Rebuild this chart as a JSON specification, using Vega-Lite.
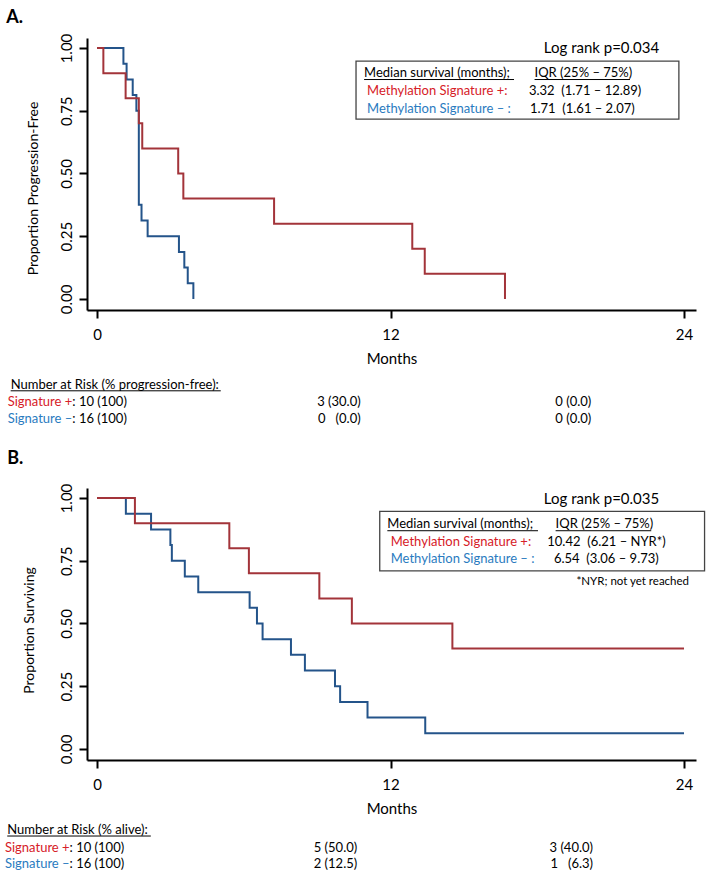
{
  "$schema": "https://vega.github.io/schema/vega-lite/v6.json",
  "background": "white",
  "padding": {"left": 4, "top": 8, "right": 0, "bottom": 0},
  "bounds": "flush",
  "spacing": 178,
  "config": {
    "view": {"stroke": null},
    "font": "Lato",
    "axis": {
      "grid": false,
      "domainColor": "black",
      "domainWidth": 2,
      "tickColor": "black",
      "tickWidth": 2,
      "tickSize": 8,
      "labelColor": "black",
      "labelFont": "Lato",
      "labelFontSize": 15,
      "titleColor": "black",
      "titleFont": "Lato",
      "titleFontSize": 14,
      "titleFontWeight": "normal"
    }
  },
  "datasets": {
    "pfs": [
      {"group": "neg", "month": 0, "surv": 1},
      {"group": "neg", "month": 1.08, "surv": 0.9375},
      {"group": "neg", "month": 1.21, "surv": 0.875},
      {"group": "neg", "month": 1.46, "surv": 0.8125},
      {"group": "neg", "month": 1.61, "surv": 0.75},
      {"group": "neg", "month": 1.71, "surv": 0.375},
      {"group": "neg", "month": 1.82, "surv": 0.3125},
      {"group": "neg", "month": 2.07, "surv": 0.25},
      {"group": "neg", "month": 3.35, "surv": 0.1875},
      {"group": "neg", "month": 3.57, "surv": 0.125},
      {"group": "neg", "month": 3.71, "surv": 0.0625},
      {"group": "neg", "month": 3.94, "surv": 0},
      {"group": "pos", "month": 0, "surv": 1},
      {"group": "pos", "month": 0.26, "surv": 0.9},
      {"group": "pos", "month": 1.17, "surv": 0.8},
      {"group": "pos", "month": 1.71, "surv": 0.7},
      {"group": "pos", "month": 1.85, "surv": 0.6},
      {"group": "pos", "month": 3.32, "surv": 0.5},
      {"group": "pos", "month": 3.53, "surv": 0.4},
      {"group": "pos", "month": 7.24, "surv": 0.3},
      {"group": "pos", "month": 12.89, "surv": 0.2},
      {"group": "pos", "month": 13.4, "surv": 0.1},
      {"group": "pos", "month": 16.68, "surv": 0}
    ],
    "os": [
      {"group": "neg", "month": 0, "surv": 1},
      {"group": "neg", "month": 1.18, "surv": 0.9375},
      {"group": "neg", "month": 2.21, "surv": 0.875},
      {"group": "neg", "month": 3.0, "surv": 0.8125},
      {"group": "neg", "month": 3.06, "surv": 0.75},
      {"group": "neg", "month": 3.59, "surv": 0.6875},
      {"group": "neg", "month": 4.14, "surv": 0.625},
      {"group": "neg", "month": 6.24, "surv": 0.5625},
      {"group": "neg", "month": 6.54, "surv": 0.5},
      {"group": "neg", "month": 6.77, "surv": 0.4375},
      {"group": "neg", "month": 7.93, "surv": 0.375},
      {"group": "neg", "month": 8.5, "surv": 0.3125},
      {"group": "neg", "month": 9.73, "surv": 0.25},
      {"group": "neg", "month": 9.94, "surv": 0.1875},
      {"group": "neg", "month": 11.06, "surv": 0.125},
      {"group": "neg", "month": 13.42, "surv": 0.0625},
      {"group": "neg", "month": 24, "surv": 0.0625},
      {"group": "pos", "month": 0, "surv": 1},
      {"group": "pos", "month": 1.55, "surv": 0.9},
      {"group": "pos", "month": 5.41, "surv": 0.8},
      {"group": "pos", "month": 6.21, "surv": 0.7},
      {"group": "pos", "month": 9.09, "surv": 0.6},
      {"group": "pos", "month": 10.42, "surv": 0.5},
      {"group": "pos", "month": 14.53, "surv": 0.4},
      {"group": "pos", "month": 24, "surv": 0.4}
    ]
  },
  "vconcat": [
    {
      "width": 609,
      "height": 272,
      "layer": [
        {
          "data": {"name": "pfs"},
          "mark": {"type": "line", "interpolate": "step-after", "strokeWidth": 2},
          "encoding": {
            "x": {"field": "month", "type": "quantitative", "scale": {"domain": [-0.409, 24.49], "nice": false, "zero": false},
              "axis": {"values": [0, 12, 24], "title": "Months", "labelPadding": 9, "titlePadding": 9, "titleFontSize": 15}},
            "y": {"field": "surv", "type": "quantitative", "scale": {"domain": [-0.044, 1.04], "nice": false, "zero": false},
              "axis": {"values": [0, 0.25, 0.5, 0.75, 1], "format": ".2f", "labelAngle": -90, "labelAlign": "center", "labelBaseline": "bottom", "labelPadding": 5,
                "title": "Proportion  Progression-Free", "titleX": -47, "titleY": 150}},
            "color": {"field": "group", "type": "nominal", "scale": {"domain": ["neg", "pos"], "range": ["#24548a", "#a3343a"]}, "legend": null}
          }
        },
        {"data": {"values": [{}]}, "mark": {"type": "text", "text": "A.", "fontSize": 18, "fontWeight": "bold", "align": "left", "baseline": "alphabetic"},
          "encoding": {"x": {"datum": -3.71, "type": "quantitative"}, "y": {"datum": 1.101, "type": "quantitative"}}},
        {"data": {"values": [{}]}, "mark": {"type": "text", "text": "Log rank p=0.034", "fontSize": 15, "align": "left", "baseline": "alphabetic"},
          "encoding": {"x": {"datum": 18.27, "type": "quantitative"}, "y": {"datum": 0.979, "type": "quantitative"}}},
        {"data": {"values": [{}]}, "mark": {"type": "rect", "fill": null, "stroke": "#444444", "strokeWidth": 1.3},
          "encoding": {"x": {"datum": 10.59, "type": "quantitative"}, "x2": {"datum": 23.79}, "y": {"datum": 0.948, "type": "quantitative"}, "y2": {"datum": 0.717}}},
        {"data": {"values": [{}]}, "mark": {"type": "text", "text": "Median survival (months);", "fontSize": 13, "align": "left", "baseline": "alphabetic"},
          "encoding": {"x": {"datum": 10.92, "type": "quantitative"}, "y": {"datum": 0.883, "type": "quantitative"}}},
        {"data": {"values": [{}]}, "mark": {"type": "text", "text": "IQR (25% – 75%)", "fontSize": 13, "align": "left", "baseline": "alphabetic"},
          "encoding": {"x": {"datum": 17.89, "type": "quantitative"}, "y": {"datum": 0.883, "type": "quantitative"}}},
        {"data": {"values": [{}]}, "mark": {"type": "rule", "color": "black", "strokeWidth": 1},
          "encoding": {"x": {"datum": 10.92, "type": "quantitative"}, "x2": {"datum": 17.05}, "y": {"datum": 0.8745, "type": "quantitative"}}},
        {"data": {"values": [{}]}, "mark": {"type": "rule", "color": "black", "strokeWidth": 1},
          "encoding": {"x": {"datum": 17.89, "type": "quantitative"}, "x2": {"datum": 21.79}, "y": {"datum": 0.8745, "type": "quantitative"}}},
        {"data": {"values": [{}]}, "mark": {"type": "text", "text": "Methylation Signature +:", "fontSize": 13, "color": "#d62027", "align": "left", "baseline": "alphabetic"},
          "encoding": {"x": {"datum": 11.04, "type": "quantitative"}, "y": {"datum": 0.811, "type": "quantitative"}}},
        {"data": {"values": [{}]}, "mark": {"type": "text", "text": "3.32\u00a0 (1.71 – 12.89)", "fontSize": 13, "align": "left", "baseline": "alphabetic"},
          "encoding": {"x": {"datum": 17.66, "type": "quantitative"}, "y": {"datum": 0.811, "type": "quantitative"}}},
        {"data": {"values": [{}]}, "mark": {"type": "text", "text": "Methylation Signature – :", "fontSize": 13, "color": "#2a7bc0", "align": "left", "baseline": "alphabetic"},
          "encoding": {"x": {"datum": 11.04, "type": "quantitative"}, "y": {"datum": 0.742, "type": "quantitative"}}},
        {"data": {"values": [{}]}, "mark": {"type": "text", "text": "1.71\u00a0 (1.61 – 2.07)", "fontSize": 13, "align": "left", "baseline": "alphabetic"},
          "encoding": {"x": {"datum": 17.7, "type": "quantitative"}, "y": {"datum": 0.742, "type": "quantitative"}}},
        {"data": {"values": [{}]}, "mark": {"type": "text", "text": "Number at Risk (% progression-free):", "fontSize": 13, "align": "left", "baseline": "alphabetic"},
          "encoding": {"x": {"datum": -3.53, "type": "quantitative"}, "y": {"datum": -0.36, "type": "quantitative"}}},
        {"data": {"values": [{}]}, "mark": {"type": "rule", "color": "black", "strokeWidth": 1},
          "encoding": {"x": {"datum": -3.53, "type": "quantitative"}, "x2": {"datum": 5.06}, "y": {"datum": -0.366, "type": "quantitative"}}},
        {"data": {"values": [{}]}, "mark": {"type": "text", "text": "Signature +", "fontSize": 13, "color": "#d62027", "align": "right", "baseline": "alphabetic"},
          "encoding": {"x": {"datum": -1.01, "type": "quantitative"}, "y": {"datum": -0.426, "type": "quantitative"}}},
        {"data": {"values": [{}]}, "mark": {"type": "text", "text": ": 10 (100)", "fontSize": 13, "align": "left", "baseline": "alphabetic"},
          "encoding": {"x": {"datum": -1.01, "type": "quantitative"}, "y": {"datum": -0.426, "type": "quantitative"}}},
        {"data": {"values": [{}]}, "mark": {"type": "text", "text": "Signature –", "fontSize": 13, "color": "#2a7bc0", "align": "right", "baseline": "alphabetic"},
          "encoding": {"x": {"datum": -1.01, "type": "quantitative"}, "y": {"datum": -0.495, "type": "quantitative"}}},
        {"data": {"values": [{}]}, "mark": {"type": "text", "text": ": 16 (100)", "fontSize": 13, "align": "left", "baseline": "alphabetic"},
          "encoding": {"x": {"datum": -1.01, "type": "quantitative"}, "y": {"datum": -0.495, "type": "quantitative"}}},
        {"data": {"values": [{}]}, "mark": {"type": "text", "text": "3 (30.0)", "fontSize": 13, "align": "right", "baseline": "alphabetic"},
          "encoding": {"x": {"datum": 10.78, "type": "quantitative"}, "y": {"datum": -0.426, "type": "quantitative"}}},
        {"data": {"values": [{}]}, "mark": {"type": "text", "text": "0\u00a0\u00a0 (0.0)", "fontSize": 13, "align": "right", "baseline": "alphabetic"},
          "encoding": {"x": {"datum": 10.78, "type": "quantitative"}, "y": {"datum": -0.495, "type": "quantitative"}}},
        {"data": {"values": [{}]}, "mark": {"type": "text", "text": "0 (0.0)", "fontSize": 13, "align": "right", "baseline": "alphabetic"},
          "encoding": {"x": {"datum": 20.21, "type": "quantitative"}, "y": {"datum": -0.426, "type": "quantitative"}}},
        {"data": {"values": [{}]}, "mark": {"type": "text", "text": "0 (0.0)", "fontSize": 13, "align": "right", "baseline": "alphabetic"},
          "encoding": {"x": {"datum": 20.21, "type": "quantitative"}, "y": {"datum": -0.495, "type": "quantitative"}}}
      ]
    },
    {
      "width": 609,
      "height": 272,
      "layer": [
        {
          "data": {"name": "os"},
          "mark": {"type": "line", "interpolate": "step-after", "strokeWidth": 2},
          "encoding": {
            "x": {"field": "month", "type": "quantitative", "scale": {"domain": [-0.409, 24.49], "nice": false, "zero": false},
              "axis": {"values": [0, 12, 24], "title": "Months", "labelPadding": 9, "titlePadding": 9, "titleFontSize": 15}},
            "y": {"field": "surv", "type": "quantitative", "scale": {"domain": [-0.044, 1.04], "nice": false, "zero": false},
              "axis": {"values": [0, 0.25, 0.5, 0.75, 1], "format": ".2f", "labelAngle": -90, "labelAlign": "center", "labelBaseline": "bottom", "labelPadding": 5,
                "title": "Proportion Surviving", "titleX": -51, "titleY": 142}},
            "color": {"field": "group", "type": "nominal", "scale": {"domain": ["neg", "pos"], "range": ["#24548a", "#a3343a"]}, "legend": null}
          }
        },
        {"data": {"values": [{}]}, "mark": {"type": "text", "text": "B.", "fontSize": 18, "fontWeight": "bold", "align": "left", "baseline": "alphabetic"},
          "encoding": {"x": {"datum": -3.67, "type": "quantitative"}, "y": {"datum": 1.1355, "type": "quantitative"}}},
        {"data": {"values": [{}]}, "mark": {"type": "text", "text": "Log rank p=0.035", "fontSize": 15, "align": "left", "baseline": "alphabetic"},
          "encoding": {"x": {"datum": 18.27, "type": "quantitative"}, "y": {"datum": 0.975, "type": "quantitative"}}},
        {"data": {"values": [{}]}, "mark": {"type": "rect", "fill": null, "stroke": "#444444", "strokeWidth": 1.3},
          "encoding": {"x": {"datum": 11.56, "type": "quantitative"}, "x2": {"datum": 24.84}, "y": {"datum": 0.947, "type": "quantitative"}, "y2": {"datum": 0.71}}},
        {"data": {"values": [{}]}, "mark": {"type": "text", "text": "Median survival (months);", "fontSize": 13, "align": "left", "baseline": "alphabetic"},
          "encoding": {"x": {"datum": 11.87, "type": "quantitative"}, "y": {"datum": 0.879, "type": "quantitative"}}},
        {"data": {"values": [{}]}, "mark": {"type": "text", "text": "IQR (25% – 75%)", "fontSize": 13, "align": "left", "baseline": "alphabetic"},
          "encoding": {"x": {"datum": 18.75, "type": "quantitative"}, "y": {"datum": 0.879, "type": "quantitative"}}},
        {"data": {"values": [{}]}, "mark": {"type": "rule", "color": "black", "strokeWidth": 1},
          "encoding": {"x": {"datum": 11.87, "type": "quantitative"}, "x2": {"datum": 18.03}, "y": {"datum": 0.8697, "type": "quantitative"}}},
        {"data": {"values": [{}]}, "mark": {"type": "rule", "color": "black", "strokeWidth": 1},
          "encoding": {"x": {"datum": 18.75, "type": "quantitative"}, "x2": {"datum": 22.66}, "y": {"datum": 0.8697, "type": "quantitative"}}},
        {"data": {"values": [{}]}, "mark": {"type": "text", "text": "Methylation Signature +:", "fontSize": 13, "color": "#d62027", "align": "left", "baseline": "alphabetic"},
          "encoding": {"x": {"datum": 12.01, "type": "quantitative"}, "y": {"datum": 0.8087, "type": "quantitative"}}},
        {"data": {"values": [{}]}, "mark": {"type": "text", "text": "10.42\u00a0 (6.21 – NYR*)", "fontSize": 13, "align": "left", "baseline": "alphabetic"},
          "encoding": {"x": {"datum": 18.41, "type": "quantitative"}, "y": {"datum": 0.8087, "type": "quantitative"}}},
        {"data": {"values": [{}]}, "mark": {"type": "text", "text": "Methylation Signature – :", "fontSize": 13, "color": "#2a7bc0", "align": "left", "baseline": "alphabetic"},
          "encoding": {"x": {"datum": 12.01, "type": "quantitative"}, "y": {"datum": 0.7397, "type": "quantitative"}}},
        {"data": {"values": [{}]}, "mark": {"type": "text", "text": "6.54\u00a0 (3.06 – 9.73)", "fontSize": 13, "align": "left", "baseline": "alphabetic"},
          "encoding": {"x": {"datum": 18.68, "type": "quantitative"}, "y": {"datum": 0.7397, "type": "quantitative"}}},
        {"data": {"values": [{}]}, "mark": {"type": "text", "text": "*NYR; not yet reached", "fontSize": 11.5, "align": "left", "baseline": "alphabetic"},
          "encoding": {"x": {"datum": 19.6, "type": "quantitative"}, "y": {"datum": 0.652, "type": "quantitative"}}},
        {"data": {"values": [{}]}, "mark": {"type": "text", "text": "Number at Risk (% alive):", "fontSize": 13, "align": "left", "baseline": "alphabetic"},
          "encoding": {"x": {"datum": -3.67, "type": "quantitative"}, "y": {"datum": -0.34, "type": "quantitative"}}},
        {"data": {"values": [{}]}, "mark": {"type": "rule", "color": "black", "strokeWidth": 1},
          "encoding": {"x": {"datum": -3.67, "type": "quantitative"}, "x2": {"datum": 2.2}, "y": {"datum": -0.347, "type": "quantitative"}}},
        {"data": {"values": [{}]}, "mark": {"type": "text", "text": "Signature +", "fontSize": 13, "color": "#d62027", "align": "right", "baseline": "alphabetic"},
          "encoding": {"x": {"datum": -1.12, "type": "quantitative"}, "y": {"datum": -0.41, "type": "quantitative"}}},
        {"data": {"values": [{}]}, "mark": {"type": "text", "text": ": 10 (100)", "fontSize": 13, "align": "left", "baseline": "alphabetic"},
          "encoding": {"x": {"datum": -1.12, "type": "quantitative"}, "y": {"datum": -0.41, "type": "quantitative"}}},
        {"data": {"values": [{}]}, "mark": {"type": "text", "text": "Signature –", "fontSize": 13, "color": "#2a7bc0", "align": "right", "baseline": "alphabetic"},
          "encoding": {"x": {"datum": -1.12, "type": "quantitative"}, "y": {"datum": -0.476, "type": "quantitative"}}},
        {"data": {"values": [{}]}, "mark": {"type": "text", "text": ": 16 (100)", "fontSize": 13, "align": "left", "baseline": "alphabetic"},
          "encoding": {"x": {"datum": -1.12, "type": "quantitative"}, "y": {"datum": -0.476, "type": "quantitative"}}},
        {"data": {"values": [{}]}, "mark": {"type": "text", "text": "5 (50.0)", "fontSize": 13, "align": "right", "baseline": "alphabetic"},
          "encoding": {"x": {"datum": 10.64, "type": "quantitative"}, "y": {"datum": -0.41, "type": "quantitative"}}},
        {"data": {"values": [{}]}, "mark": {"type": "text", "text": "2 (12.5)", "fontSize": 13, "align": "right", "baseline": "alphabetic"},
          "encoding": {"x": {"datum": 10.64, "type": "quantitative"}, "y": {"datum": -0.476, "type": "quantitative"}}},
        {"data": {"values": [{}]}, "mark": {"type": "text", "text": "3 (40.0)", "fontSize": 13, "align": "right", "baseline": "alphabetic"},
          "encoding": {"x": {"datum": 20.28, "type": "quantitative"}, "y": {"datum": -0.41, "type": "quantitative"}}},
        {"data": {"values": [{}]}, "mark": {"type": "text", "text": "1\u00a0\u00a0 (6.3)", "fontSize": 13, "align": "right", "baseline": "alphabetic"},
          "encoding": {"x": {"datum": 20.28, "type": "quantitative"}, "y": {"datum": -0.476, "type": "quantitative"}}}
      ]
    }
  ]
}
